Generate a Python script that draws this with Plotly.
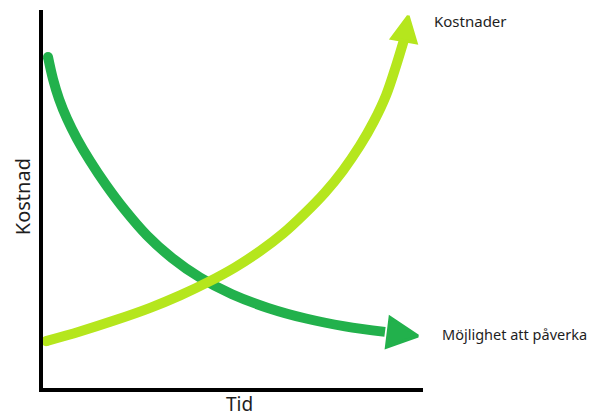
import plotly.graph_objects as go

# Curve "Möjlighet att påverka" (decreasing), last point = arrow tip
mojlighet_x = [1.32, 2.63, 4.21, 6.32, 8.95, 12.37, 16.58, 21.58, 27.37, 33.95, 41.32, 49.74, 59.21, 69.21, 79.47, 90.0, 98.68]
mojlighet_y = [87.57, 81.75, 76.51, 71.22, 65.93, 60.08, 53.73, 47.04, 40.34, 34.39, 29.21, 24.81, 21.19, 18.39, 16.32, 14.84, 13.76]

# Curve "Kostnader" (increasing), last point = arrow tip
kostnader_x = [0.8, 9.7, 18.9, 28.2, 36.1, 43.4, 50.5, 57.1, 63.2, 68.9, 74.2, 78.9, 83.4, 87.1, 90.3, 92.9, 95.0, 96.1]
kostnader_y = [12.4, 14.95, 17.9, 21.2, 24.5, 28.0, 31.9, 36.2, 40.9, 46.2, 51.7, 57.5, 64.1, 70.6, 77.5, 85.2, 92.1, 98.4]

labels = ["Möjlighet att påverka", "Kostnader"]
x_title = "Tid"
y_title = "Kostnad"

DARK = "#22b14c"
LIME = "#b5e61d"
LW = 10

fig = go.Figure()


def add_arrow_curve(xs, ys, color, head):
    n = len(xs) - 1
    # body of the curve (up to the arrowhead base), round start cap via marker
    fig.add_trace(go.Scatter(
        x=xs[:n], y=ys[:n], mode="lines+markers",
        line=dict(color=color, width=LW, shape="spline", smoothing=1.0, simplify=False),
        marker=dict(size=[LW] + [0] * (n - 1), color=color, symbol="circle",
                    opacity=1, line=dict(width=0)),
        hoverinfo="skip", showlegend=False, cliponaxis=False,
    ))
    # arrowhead oriented along the last segment
    fig.add_trace(go.Scatter(
        x=xs[n - 1:], y=ys[n - 1:], mode="markers",
        marker=dict(size=[0, head], color=color, symbol="arrow-up", opacity=1,
                    angleref="previous", line=dict(width=3, color=color)),
        hoverinfo="skip", showlegend=False, cliponaxis=False,
    ))


add_arrow_curve(mojlighet_x, mojlighet_y, DARK, 30)
add_arrow_curve(kostnader_x, kostnader_y, LIME, 25)

FONT = "Noto Sans"
TXT = "#1e1e1e"

fig.add_annotation(x=1.0237, y=0.972, xref="paper", yref="paper", text=labels[1],
                   showarrow=False, xanchor="left", yanchor="middle",
                   font=dict(family=FONT, size=15, color=TXT))
fig.add_annotation(x=1.0447, y=0.142, xref="paper", yref="paper", text=labels[0],
                   showarrow=False, xanchor="left", yanchor="middle",
                   font=dict(family=FONT, size=14.5, color=TXT))
fig.add_annotation(x=0.518, y=-0.042, xref="paper", yref="paper", text=x_title,
                   showarrow=False, xanchor="center", yanchor="middle",
                   font=dict(family=FONT, size=19, color=TXT))
fig.add_annotation(x=-0.055, y=0.505, xref="paper", yref="paper", text=y_title,
                   showarrow=False, xanchor="center", yanchor="middle", textangle=-90,
                   font=dict(family=FONT, size=20, color=TXT))

axis_common = dict(showline=True, linecolor="black", linewidth=4, showgrid=False,
                   zeroline=False, showticklabels=False, ticks="", fixedrange=True)
fig.update_xaxes(range=[0, 100], **axis_common)
fig.update_yaxes(range=[0, 100], **axis_common)

# page body adds an 8px margin, so the figure is sized/offset to compensate
fig.update_layout(
    width=587, height=409,
    margin=dict(l=35, r=172, t=2, b=29),
    plot_bgcolor="white", paper_bgcolor="white",
    hovermode=False,
)

fig.write_html("out.html")
